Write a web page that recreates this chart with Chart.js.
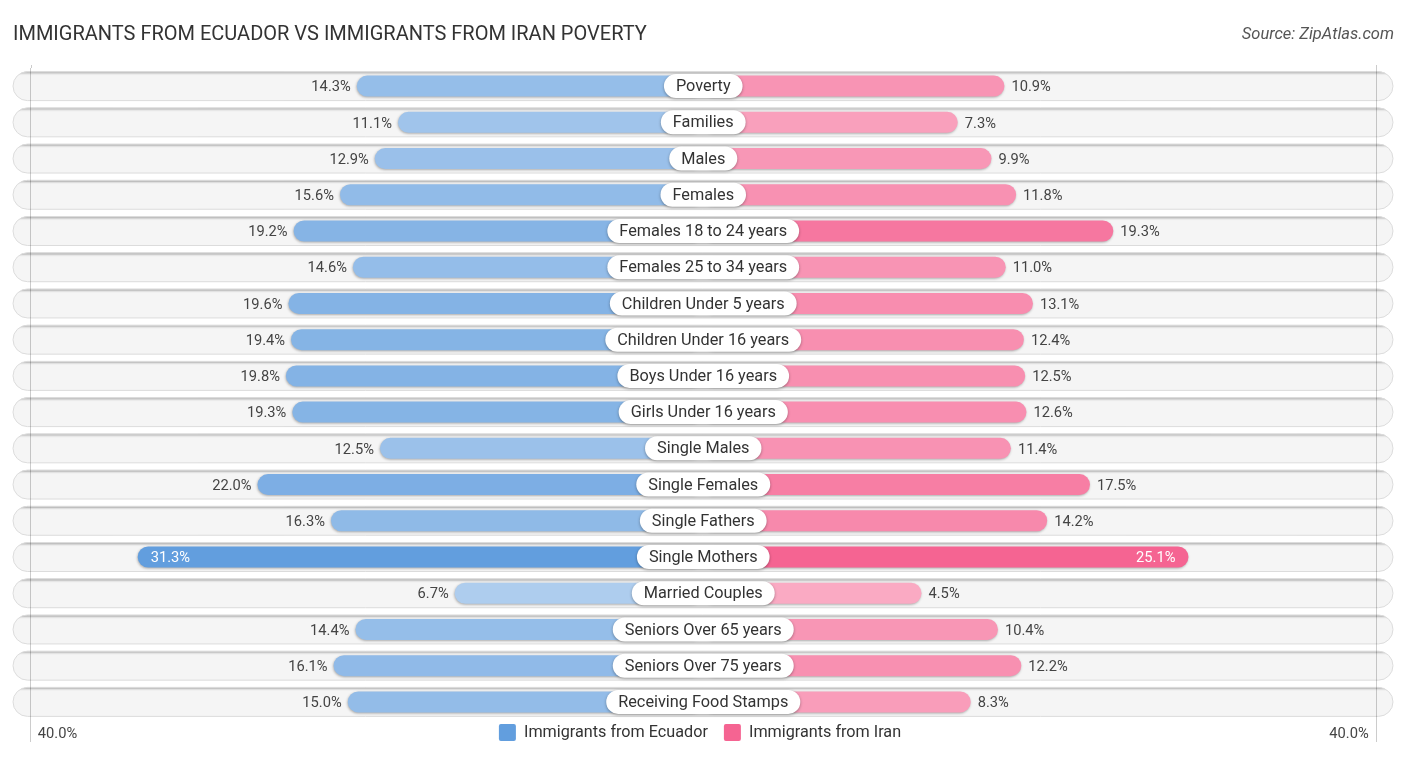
<!DOCTYPE html>
<html><head><meta charset="utf-8">
<script src="https://cdn.jsdelivr.net/npm/chart.js@4"></script>
<style>html,body{margin:0;padding:0;background:#fff}canvas{display:block}</style>
</head><body><canvas id="c" width="1406" height="758"></canvas>
<script>
const categories = ["Poverty","Families","Males","Females","Females 18 to 24 years","Females 25 to 34 years","Children Under 5 years","Children Under 16 years","Boys Under 16 years","Girls Under 16 years","Single Males","Single Females","Single Fathers","Single Mothers","Married Couples","Seniors Over 65 years","Seniors Over 75 years","Receiving Food Stamps"];
const ecuadorValues = [14.3,11.1,12.9,15.6,19.2,14.6,19.6,19.4,19.8,19.3,12.5,22.0,16.3,31.3,6.7,14.4,16.1,15.0];
const iranValues = [10.9,7.3,9.9,11.8,19.3,11.0,13.1,12.4,12.5,12.6,11.4,17.5,14.2,25.1,4.5,10.4,12.2,8.3];
const seriesNames = ["Immigrants from Ecuador","Immigrants from Iran"];
const axisLimit = 40;

const FONT = 'Roboto';
const leftBase = -12.59, rightBase = -12.34;   // value at which each side's scale meets the centre line
const trackFrom = -41.04, trackTo = 41.01;

const BLUE=[98,158,222], PINK=[245,100,146];
function tint(rgb,a){ a=Math.min(1,a); return 'rgb('+rgb.map(c=>Math.round(c*a+255*(1-a))).join(',')+')'; }
function blue(ctx){ return tint(BLUE, .38+.0205*ctx.raw[1]); }
function pink(ctx){ return tint(PINK, .45+.022*ctx.raw[1]); }

const decor = {
  id:'decor',
  beforeLayout(chart){
    const l = chart.legend;
    if(l && !l._wrapped){ const f=l.fit.bind(l); l.fit=function(){ f(); this.height=0; }; l._wrapped=true; }
  },
  afterLayout(chart){
    chart.titleBlock.left = 13;
    const l = chart.legend;
    l.left -= 3.25; l.right -= 3.25;
    l.top = 708; l.height = 50; l.bottom = 758;
  },
  beforeDatasetDraw(chart,args){
    if(args.index>0){
      const c = chart.ctx; c.save();
      c.shadowColor='rgba(0,0,0,.3)'; c.shadowBlur=2.5; c.shadowOffsetY=1; c.shadowOffsetX=-.5;
    }
  },
  afterDatasetDraw(chart,args){
    const c = chart.ctx;
    if(args.index>0){ c.restore(); return; }
    args.meta.data.forEach(el=>{
      const p = el.getProps(['x','y','base','height'],true);
      const x0=Math.min(p.x,p.base), w=Math.abs(p.x-p.base), y0=p.y-p.height/2, h=p.height;
      c.save();
      c.beginPath(); c.roundRect(x0,y0,w,h,h/2); c.clip();
      c.shadowColor='rgba(0,0,0,.38)'; c.shadowBlur=2; c.shadowOffsetY=1;
      c.strokeStyle='#c4c4c4'; c.lineWidth=1.4;
      c.beginPath(); c.moveTo(x0-20,y0); c.lineTo(x0+w+20,y0); c.stroke();
      c.restore();
      c.save();
      c.strokeStyle='#dcdcdc'; c.lineWidth=1;
      c.beginPath(); c.roundRect(x0,y0,w,h,h/2); c.stroke();
      c.restore();
    });
  },
  afterDatasetsDraw(chart){
    const c = chart.ctx, y = chart.scales.y, xL = chart.scales.xL, xR = chart.scales.xR, x = chart.scales.x;
    c.save();
    const a = chart.chartArea;
    c.strokeStyle='rgba(0,0,0,.2)'; c.lineWidth=1;
    [-axisLimit,axisLimit].forEach(v=>{ const px=Math.round(x.getPixelForValue(v))+.5;
      c.beginPath(); c.moveTo(px,a.top-3); c.lineTo(px,a.top); c.stroke(); });
    c.font=`14.7px ${FONT}`; c.textBaseline='middle';
    categories.forEach((name,i)=>{
      const cy = y.getPixelForValue(i)+1.5;
      const lv=ecuadorValues[i], rv=iranValues[i];
      const lp=xL.getPixelForValue(lv), rp=xR.getPixelForValue(rv);
      if(lv>25){ c.fillStyle='#fff'; c.textAlign='left'; c.fillText(lv.toFixed(1)+'%',lp+13,cy); }
      else { c.fillStyle='#444'; c.textAlign='right'; c.fillText(lv.toFixed(1)+'%',lp-6,cy); }
      if(rv>25){ c.fillStyle='#fff'; c.textAlign='right'; c.fillText(rv.toFixed(1)+'%',rp-13,cy); }
      else { c.fillStyle='#444'; c.textAlign='left'; c.fillText(rv.toFixed(1)+'%',rp+7,cy); }
    });
    c.font=`16.3px ${FONT}`; c.textAlign='center';
    const cx = x.getPixelForValue(0);
    categories.forEach((name,i)=>{
      const cy = y.getPixelForValue(i);
      const w = c.measureText(name).width+24;
      c.save();
      c.shadowColor='rgba(0,0,0,.35)'; c.shadowBlur=3; c.shadowOffsetY=1;
      c.fillStyle='#fff';
      c.beginPath(); c.roundRect(cx-w/2,cy-12,w,24,12); c.fill();
      c.restore();
      c.fillStyle='#333'; c.fillText(name,cx,cy+1);
    });
    c.restore();
  },
  afterDraw(chart){
    const c = chart.ctx; c.save();
    c.font=`italic 16.5px ${FONT}`; c.fillStyle='#555'; c.textAlign='right'; c.textBaseline='middle';
    c.fillText('Source: ZipAtlas.com',1394,34.5);
    c.restore();
  }
};

new Chart(document.getElementById('c'),{
  type:'bar',
  data:{ labels:categories, datasets:[
    {label:'Track', data:categories.map(()=>[trackFrom,trackTo]), xAxisID:'x', backgroundColor:'#f5f5f5', barThickness:29, borderRadius:14.5, order:3},
    {label:seriesNames[0], data:ecuadorValues.map(v=>[leftBase,v]), xAxisID:'xL', backgroundColor:blue, barThickness:21, borderRadius:10.5, order:2},
    {label:seriesNames[1], data:iranValues.map(v=>[rightBase,v]), xAxisID:'xR', backgroundColor:pink, barThickness:21, borderRadius:10.5, order:1}
  ]},
  options:{
    indexAxis:'y', responsive:false, animation:false, devicePixelRatio:1,
    layout:{padding:{left:30.5,right:30,top:0,bottom:0}},
    datasets:{bar:{grouped:false,borderSkipped:false,borderWidth:0,inflateAmount:0,clip:false}},
    scales:{
      y:{display:false,type:'category',offset:true,grid:{display:false}},
      x:{type:'linear',position:'bottom',min:-axisLimit,max:axisLimit,
        afterBuildTicks(s){ s.ticks=[{value:-axisLimit},{value:axisLimit}]; },
        afterFit(s){ s.height=38; },
        border:{display:false},
        grid:{color:'rgba(0,0,0,.2)',tickColor:'rgba(0,0,0,.2)',tickLength:22,z:1},
        ticks:{align:'inner',autoSkip:false,maxRotation:0,padding:-16.5,color:'#444',font:{family:FONT,size:14.7},
          callback(v){ return v<0 ? '  '+axisLimit.toFixed(1)+'%' : axisLimit.toFixed(1)+'%  '; }}},
      xL:{type:'linear',display:false,axis:'x',reverse:true,min:-64.80,max:39.62},
      xR:{type:'linear',display:false,axis:'x',min:-64.25,max:39.57}
    },
    plugins:{
      title:{display:true,text:'IMMIGRANTS FROM ECUADOR VS IMMIGRANTS FROM IRAN POVERTY',align:'start',color:'#333',
        font:{family:FONT,size:20,weight:'normal',lineHeight:1.2},padding:{top:23,bottom:21}},
      legend:{position:'bottom',labels:{
        generateLabels(chart){
          return Chart.defaults.plugins.legend.labels.generateLabels(chart)
            .filter(i=>i.datasetIndex>0)
            .sort((a,b)=>a.datasetIndex-b.datasetIndex)
            .map(i=>Object.assign(i,{fillStyle:tint(i.datasetIndex===1?BLUE:PINK,1)}));
        },
        boxWidth:17,boxHeight:17,padding:16,useBorderRadius:true,borderRadius:2,
        color:'#333',font:{family:FONT,size:16.2}}},
      tooltip:{enabled:false}
    }
  },
  plugins:[decor]
});
</script></body></html>
